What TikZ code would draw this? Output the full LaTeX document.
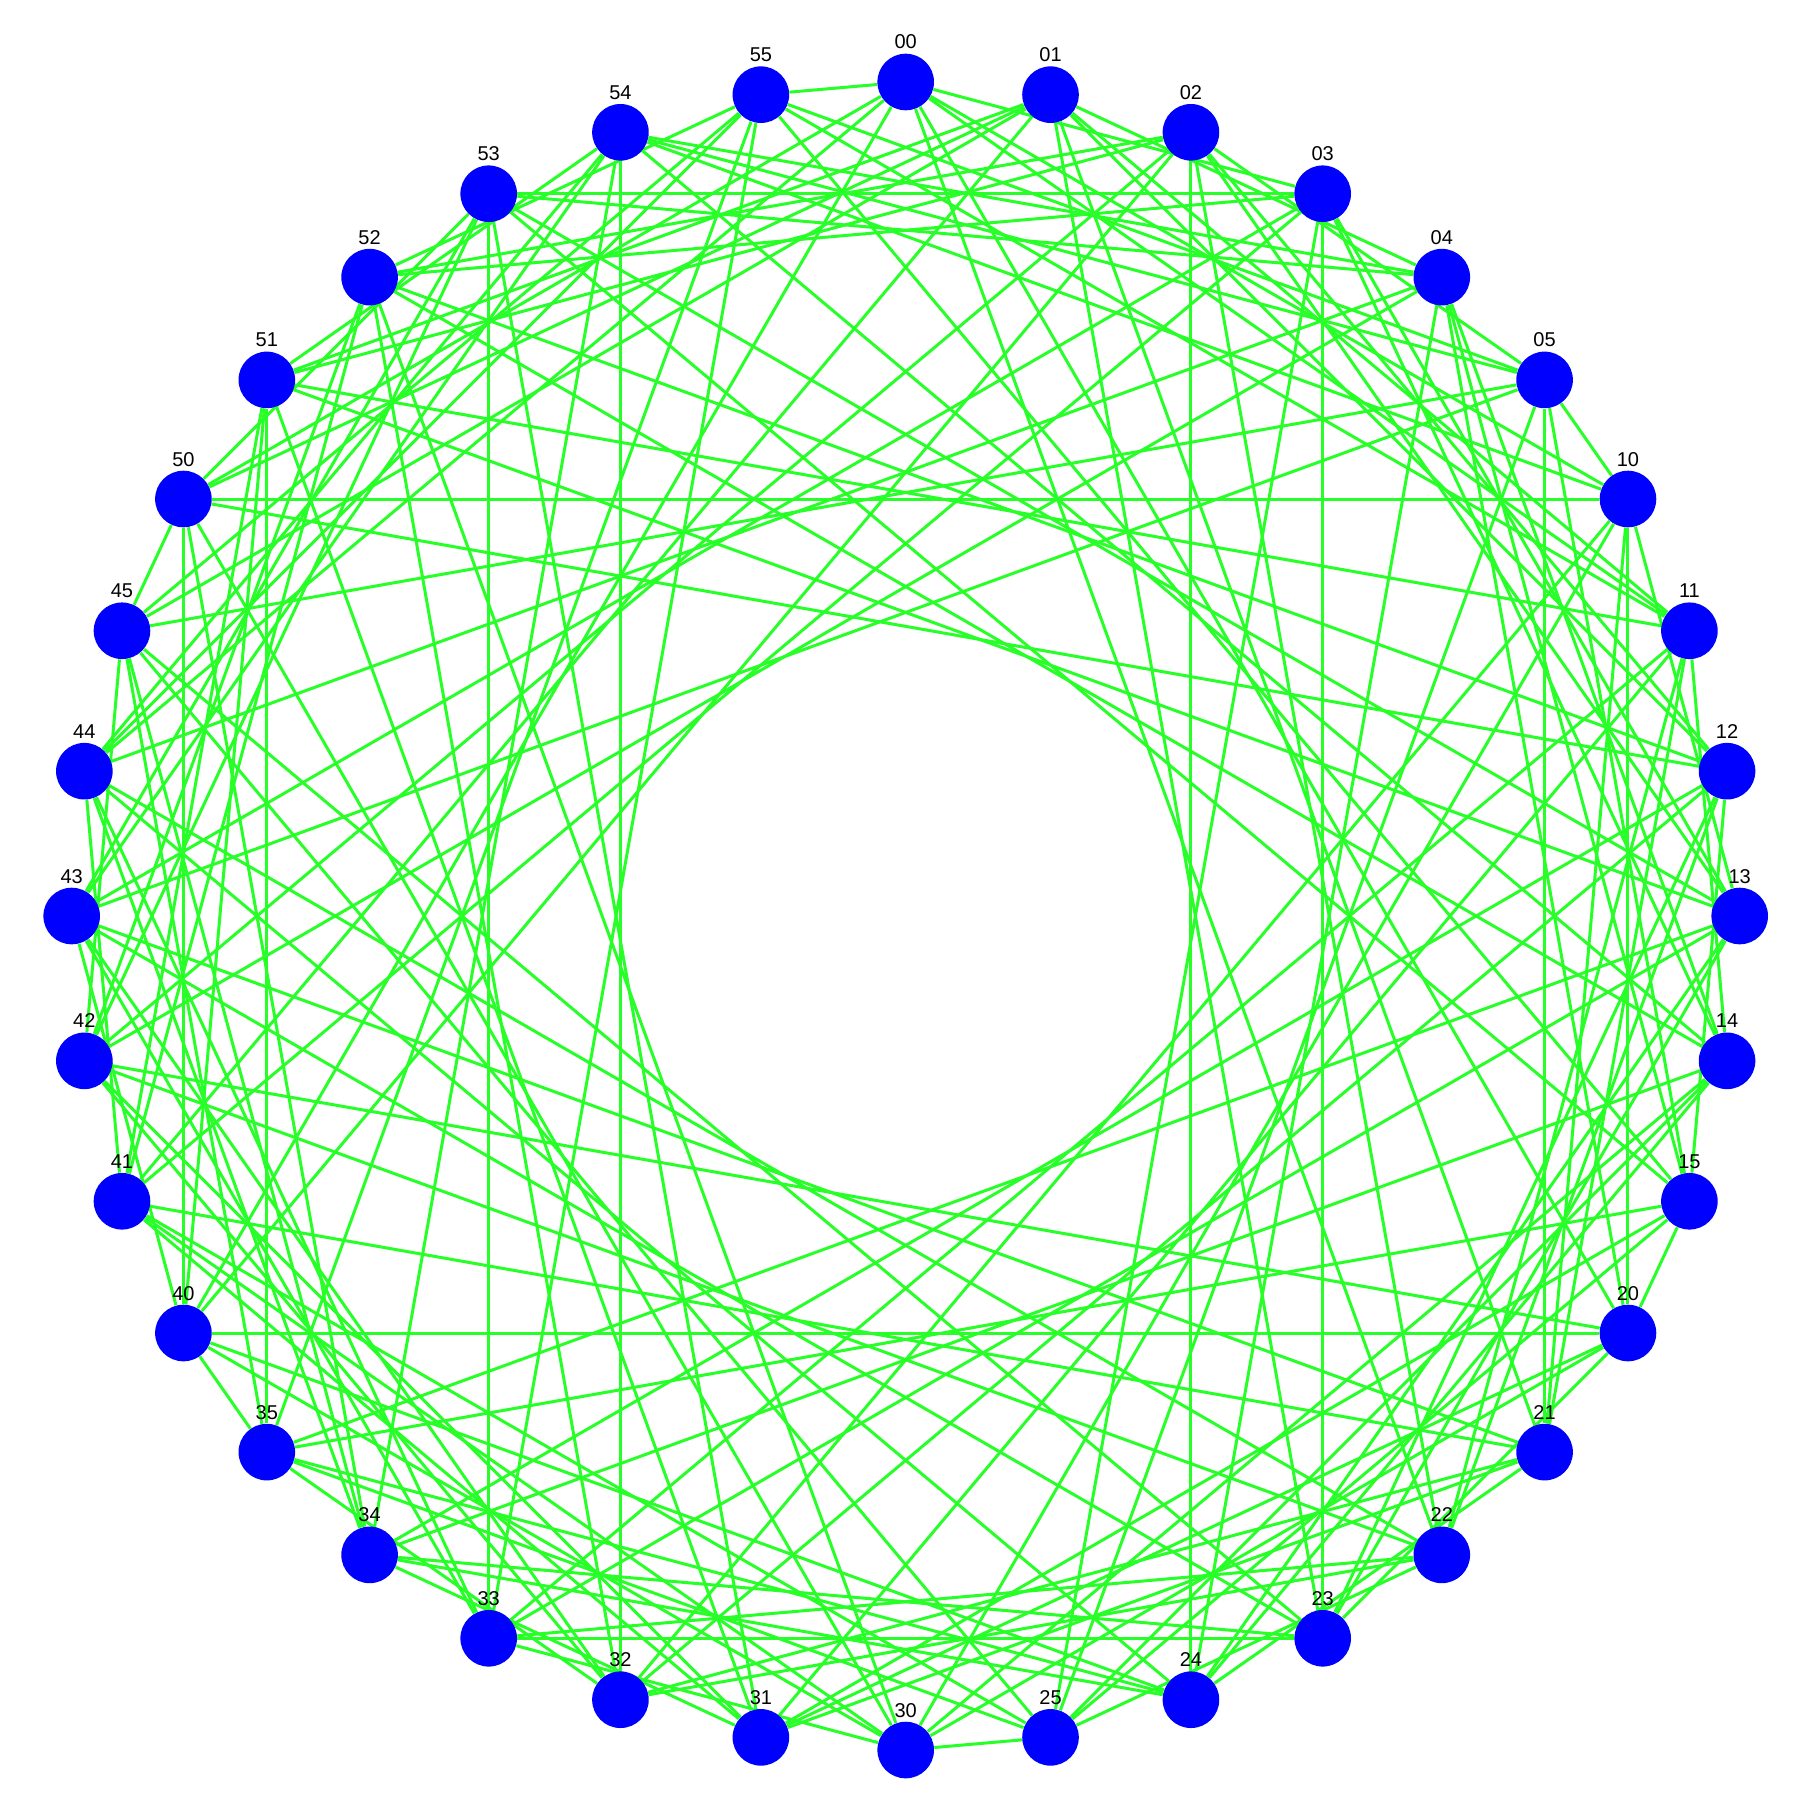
\documentclass[tikz,border=0pt]{standalone}
\usepackage{fontspec}
\setmainfont{Liberation Sans}
\usetikzlibrary{backgrounds}
\definecolor{vblue}{RGB}{0,0,255}
\definecolor{egreen}{RGB}{40,255,40}
\tikzset{
  vtx/.style={circle, fill=vblue, inner sep=0pt, minimum size=28.3pt},
  lbl/.style={anchor=base, inner sep=0pt, font=\fontsize{10}{12}\selectfont},
  link/.style={egreen, line width=1.5pt}
}
\begin{document}
\begin{tikzpicture}[x=0.5pt,y=0.5pt]
\useasboundingbox (-905.7,-896) rectangle (912.3,916);
% vertices ab, clockwise from the top
\foreach \a in {0,...,5}{
  \foreach \b in {0,...,5}{
    \pgfmathsetmacro\ang{90-10*(6*\a+\b)}
    \node[vtx] (n\a\b) at (\ang:834) {};
    \path (n\a\b.center) ++(0,33) node[lbl] (l\a\b) {\a\b};
  }
}
% edges: steps (1,0), (2,0), (1,1), (2,2) and (0,3)
\begin{scope}[on background layer]
\foreach \a in {0,...,5}{
  \foreach \b in {0,...,5}{
    \pgfmathtruncatemacro\ai{mod(\a+1,6)}
    \pgfmathtruncatemacro\aii{mod(\a+2,6)}
    \pgfmathtruncatemacro\bi{mod(\b+1,6)}
    \pgfmathtruncatemacro\bii{mod(\b+2,6)}
    \draw[link] (n\a\b) -- (n\ai\b);
    \draw[link] (n\a\b) -- (n\aii\b);
    \draw[link] (n\a\b) -- (n\ai\bi);
    \draw[link] (n\a\b) -- (n\aii\bii);
  }
}
\foreach \a in {0,...,5}{
  \foreach \b in {0,1,2}{
    \pgfmathtruncatemacro\biii{\b+3}
    \draw[link] (n\a\b) -- (n\a\biii);
  }
}
\end{scope}
\end{tikzpicture}
\end{document}
